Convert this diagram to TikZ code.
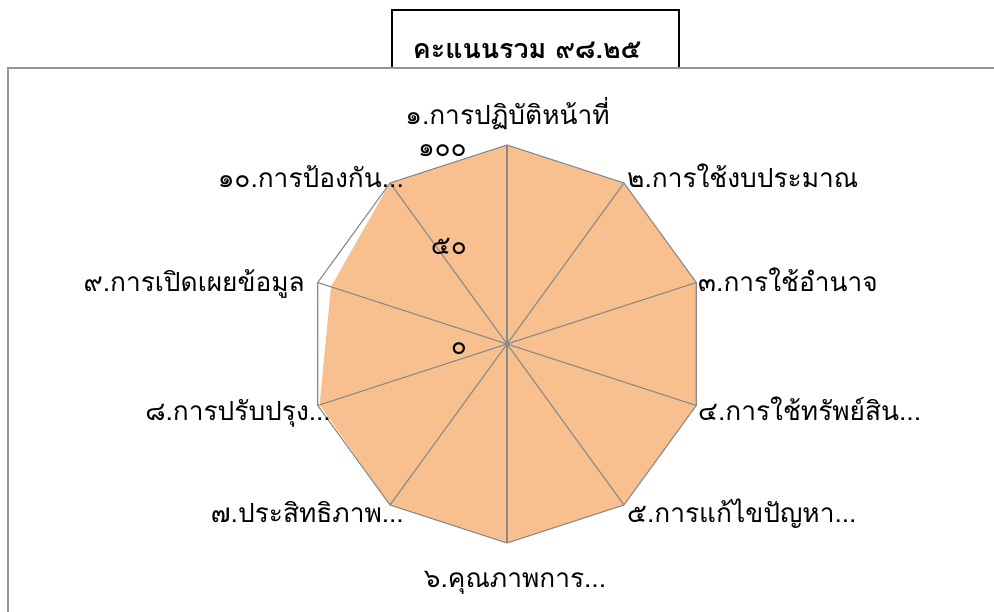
\documentclass[tikz,border=0pt]{standalone}
\usepackage{fontspec}
\usetikzlibrary{calc}
\newfontfamily\thaifont[Script=Thai]{Loma}
\definecolor{areafill}{RGB}{248,192,143}
\definecolor{gridgray}{RGB}{137,137,137}
\definecolor{framegray}{RGB}{150,150,150}
\begin{document}
\begin{tikzpicture}[x=1pt,y=1pt,
  lbl/.style={font=\thaifont\fontsize{26.3}{30}\selectfont, inner sep=0pt},
  tick/.style={font=\thaifont\fontsize{26.3}{30}\selectfont, inner sep=0pt, anchor=base east},
  spoke/.style={draw=gridgray, line width=1.1pt},
  ring/.style={draw=gridgray, line width=1.1pt},
  area/.style={fill=areafill},
  titlebox/.style={draw=black, line width=1.6pt},
  frameline/.style={draw=framegray, line width=1.5pt}]
\useasboundingbox (0,0) rectangle (994,612);
\fill[white] (0,0) rectangle (994,612);
% title box
\draw[titlebox] (392,540) -- (392,602) -- (679,602) -- (679,540);
\node[font=\thaifont\bfseries\fontsize{26.8}{30}\selectfont, inner sep=0pt] (title) at (527,562) {คะแนนรวม ๙๘.๒๕};
% chart frame
\fill[white] (9,0) rectangle (994,543);
\draw[frameline] (8,0) -- (8,544) -- (994,544);
% geometry
\coordinate (c) at (507,268);
\def\R{199}
\foreach \k in {0,...,9} {
  \coordinate (v\k) at ($(c)+({90-36*\k}:\R)$);
}
% data values
\foreach \k/\v in {0/1.00,1/1.00,2/1.00,3/1.00,4/1.00,5/1.00,6/1.00,7/0.99,8/0.93,9/1.00} {
  \coordinate (d\k) at ($(c)+({90-36*\k}:{\v*\R})$);
}
\fill[area] (d0) -- (d1) -- (d2) -- (d3) -- (d4) -- (d5) -- (d6) -- (d7) -- (d8) -- (d9) -- cycle;
\draw[ring] (v0) -- (v1) -- (v2) -- (v3) -- (v4) -- (v5) -- (v6) -- (v7) -- (v8) -- (v9) -- cycle;
\foreach \k in {0,...,9} { \draw[spoke] (c) -- (v\k); }
% tick labels
\node[tick] (t100) at (467,455) {๑๐๐};
\node[tick] (t50) at (467,357) {๕๐};
\node[tick] (t0) at (467,257) {๐};
% axis labels
\node[lbl, anchor=base] (l1) at (507.5,487) {๑.การปฏิบัติหน้าที่};
\node[lbl, anchor=base west] (l2) at (627,424) {๒.การใช้งบประมาณ};
\node[lbl, anchor=base west] (l3) at (698,320) {๓.การใช้อำนาจ};
\node[lbl, anchor=base west] (l4) at (698,191) {๔.การใช้ทรัพย์สิน...};
\node[lbl, anchor=base west] (l5) at (627,89) {๕.การแก้ไขปัญหา...};
\node[lbl, anchor=base] (l6) at (515,24) {๖.คุณภาพการ...};
\node[lbl, anchor=base east] (l7) at (404,89) {๗.ประสิทธิภาพ...};
\node[lbl, anchor=base east] (l8) at (331,191) {๘.การปรับปรุง...};
\node[lbl, anchor=base east] (l9) at (305,320) {๙.การเปิดเผยข้อมูล};
\node[lbl, anchor=base east] (l10) at (404,424) {๑๐.การป้องกัน...};
\end{tikzpicture}
\end{document}
